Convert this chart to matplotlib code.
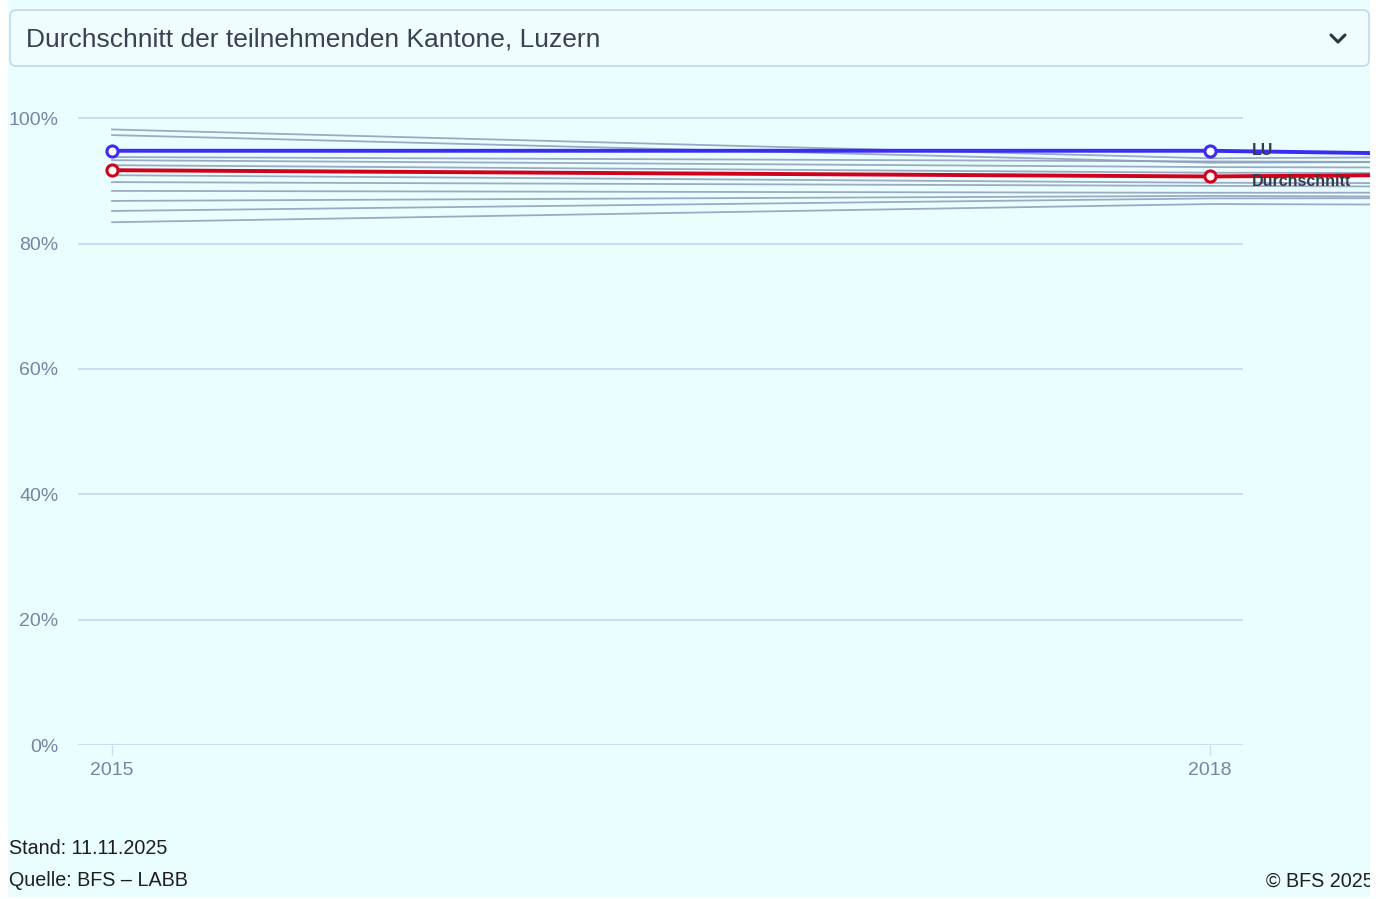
import matplotlib.pyplot as plt
from matplotlib.patches import FancyBboxPatch, Rectangle

plt.rcParams['font.family'] = ['Liberation Sans', 'DejaVu Sans']

# data
years = [2015, 2018, 2021]
lu = [94.8, 94.8, 92.3]
durchschnitt = [91.7, 90.7, 92.0]
kantone = [
    [98.2, 93.6, 94.5],
    [97.3, 92.9, 93.5],
    [93.8, 93.1, 92.6],
    [93.3, 92.2, 91.8],
    [92.5, 91.3, 91.0],
    [90.9, 89.7, 89.3],
    [89.8, 89.2, 88.6],
    [88.4, 88.1, 88.2],
    [86.8, 87.6, 87.0],
    [85.2, 87.2, 87.4],
    [83.4, 86.3, 85.8],
]
y_ticks = [0, 20, 40, 60, 80, 100]
x_ticks = [2015, 2018]
title = "Durchschnitt der teilnehmenden Kantone, Luzern"

bg = '#ebfeff'
grid_col = '#cbdcf5'
tick_col = '#7884a4'

W, H = 1381, 899
fig = plt.figure(figsize=(W / 100, H / 100), dpi=100)
fig.patch.set_facecolor('white')

# page chrome drawn in pixel coordinates
chrome = fig.add_axes([0, 0, 1, 1], zorder=0)
chrome.set_xlim(0, W)
chrome.set_ylim(H, 0)
chrome.axis('off')
chrome.add_patch(Rectangle((8, 0), 1362, 897, facecolor=bg, edgecolor='none'))
chrome.add_patch(FancyBboxPatch((10, 10), 1359, 56, boxstyle='round,pad=0,rounding_size=6',
                                facecolor='#effdff', edgecolor='#c6d6ef', lw=1.2))
chrome.text(26, 40, title, fontsize=19, color='#3b4150', va='center', ha='left')
chrome.plot([1331, 1338, 1345], [35, 42, 35], color='#2e3440', lw=2.2, solid_capstyle='round')
chrome.text(9, 848, "Stand: 11.11.2025", fontsize=14.2, color='#1e1e1e', va='center')
chrome.text(9, 881, "Quelle: BFS \u2013 LABB", fontsize=14.2, color='#1e1e1e', va='center')
chrome.text(1266, 881, "\u00a9 BFS 2025", fontsize=14.2, color='#1e1e1e', va='center')

# main chart
ax = fig.add_axes([78 / W, (H - 745) / H, (1370 - 78) / W, (745 - 100) / H], zorder=1)
ax.set_facecolor('none')
ax.set_xlim(2014.907, 2018.437)
ax.set_ylim(0, 102.9)
for s in ax.spines.values():
    s.set_visible(False)

ax.hlines(y_ticks, 2014.907, 2018.09, colors=grid_col, lw=1.4, zorder=1)

for vals in kantone:
    ax.plot(years, vals, color='#8d9bb8', lw=1.3, alpha=0.85, zorder=2)

ax.plot(years, durchschnitt, color='#d0021b', lw=2.8, zorder=4)
ax.plot(years[:2], durchschnitt[:2], 'o', ms=8, mfc='white', mec='#d0021b', mew=2.2, zorder=5)
ax.plot(years, lu, color='#3d2bf5', lw=2.8, zorder=4)
ax.plot(years[:2], lu[:2], 'o', ms=8, mfc='white', mec='#3d2bf5', mew=2.2, zorder=5)

ax.text(2018.115, lu[1], "LU", fontsize=11.5, fontweight='bold', color='#363b48',
        va='center', ha='left', zorder=6)
ax.text(2018.115, durchschnitt[1] - 0.85, "Durchschnitt", fontsize=11.5, fontweight='bold',
        color='#363b48', va='center', ha='left', zorder=6)

ax.set_yticks(y_ticks)
ax.set_yticklabels([f"{v}%" for v in y_ticks])
ax.set_xticks(x_ticks)
ax.set_xticklabels([str(v) for v in x_ticks])
ax.tick_params(axis='y', length=0, pad=14, labelsize=14, labelcolor=tick_col)
ax.tick_params(axis='x', length=7, width=1, color=grid_col, pad=5.5, labelsize=14,
               labelcolor=tick_col)

# clip the right edge like the page
chrome2 = fig.add_axes([0, 0, 1, 1], zorder=3)
chrome2.set_xlim(0, W)
chrome2.set_ylim(H, 0)
chrome2.axis('off')
chrome2.add_patch(Rectangle((1370, 0), 11, H, facecolor='white', edgecolor='none'))

fig.savefig('out.png', dpi=100, facecolor='white')
